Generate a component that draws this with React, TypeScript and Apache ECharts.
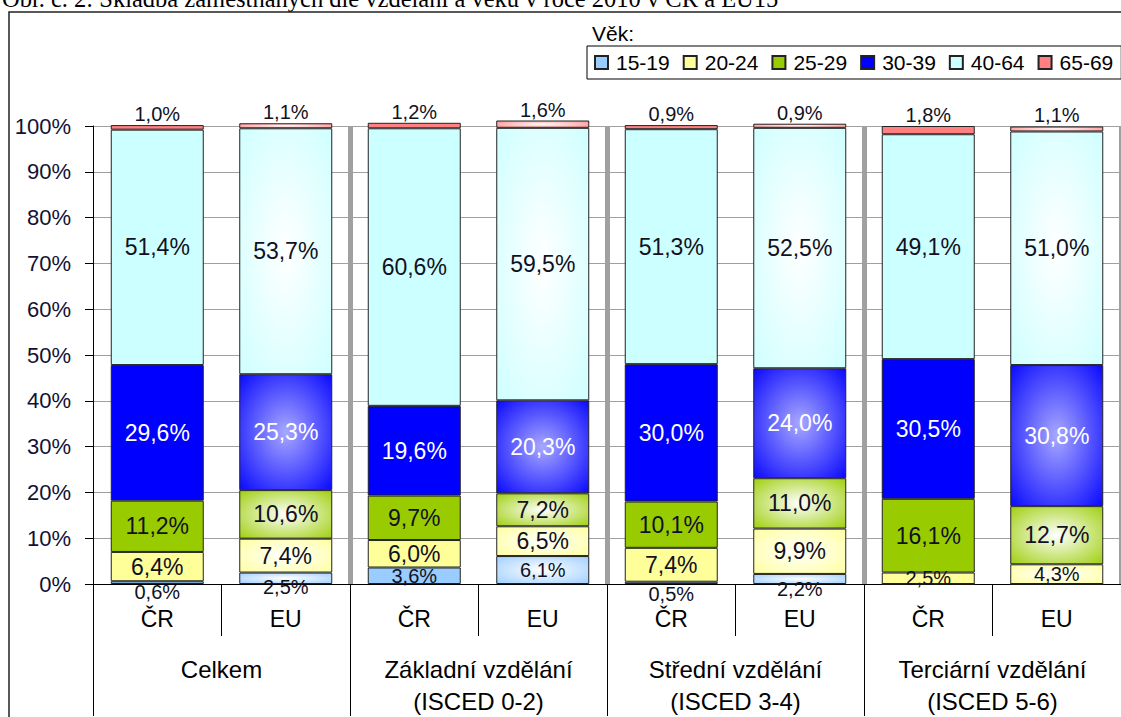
import React, { useEffect, useRef } from 'react';
import * as echarts from 'echarts';

const barLabels = ['ČR', 'EU', 'ČR', 'EU', 'ČR', 'EU', 'ČR', 'EU'];
const groupLabels = [
  'Celkem',
  'Základní vzdělání\n(ISCED 0-2)',
  'Střední vzdělání\n(ISCED 3-4)',
  'Terciární vzdělání\n(ISCED 5-6)',
];
const ageNames = ['15-19', '20-24', '25-29', '30-39', '40-64', '65-69'];
const age15_19 = [0.6, 2.5, 3.6, 6.1, 0.5, 2.2, 0, 0];
const age20_24 = [6.4, 7.4, 6.0, 6.5, 7.4, 9.9, 2.5, 4.3];
const age25_29 = [11.2, 10.6, 9.7, 7.2, 10.1, 11.0, 16.1, 12.7];
const age30_39 = [29.6, 25.3, 19.6, 20.3, 30.0, 24.0, 30.5, 30.8];
const age40_64 = [51.4, 53.7, 60.6, 59.5, 51.3, 52.5, 49.1, 51.0];
const age65_69 = [1.0, 1.1, 1.2, 1.6, 0.9, 0.9, 1.8, 1.1];
const titleText = 'Obr. č. 2: Skladba zaměstnaných dle vzdělání a věku v roce 2010 v ČR a EU15';
const legendTitle = 'Věk:';

// styling
const colors = ['#99CCFF', '#FFFF99', '#99CC00', '#0000FF', '#CCFFFF', '#FF8080'];
const centerColors = ['#ffffff', '#ffffff', '#ffffff', '#a8a8ff', '#ffffff', '#ffffff'];
const youngLabelShift = [9, 9, 0, 0, 11, 10, 0, 0];
const FONT = '"Liberation Sans", Arial, sans-serif';

const fmt = (v: number) => v.toFixed(1).replace('.', ',') + '%';

export default function App() {
  const ref = useRef<HTMLDivElement>(null);
  useEffect(() => {
    if (!ref.current) return;
    const chart = echarts.init(ref.current, undefined, { renderer: 'svg' });
    const all = [age15_19, age20_24, age25_29, age30_39, age40_64, age65_69];
    const series = all.map((vals, s) => ({
      name: ageNames[s],
      type: 'bar',
      stack: 'total',
      barWidth: 93,
      clip: false,
      xAxisIndex: 0,
      itemStyle: { color: colors[s], borderColor: '#222', borderWidth: 1 },
      label: {
        show: true,
        position: s === 5 ? 'top' : 'inside',
        distance: 1,
        fontFamily: FONT,
        color: s === 3 ? '#ffffff' : '#111122',
        formatter: (p: any) => (p.value ? fmt(p.value) : ''),
      },
      data: vals.map((v, i) => {
        const small = s === 0 || s === 5 || v < 5;
        const item: any = {
          value: v,
          label: {
            fontSize: small ? 20 : 23,
            offset: [0, s === 0 ? youngLabelShift[i] : 0],
          },
        };
        if (i % 2 === 1) {
          item.itemStyle = {
            color: {
              type: 'radial',
              x: 0.5,
              y: 0.5,
              r: 0.75,
              colorStops: [
                { offset: 0, color: centerColors[s] },
                { offset: 1, color: colors[s] },
              ],
            },
          };
        }
        return item;
      }),
    }));

    chart.setOption({
      animation: false,
      backgroundColor: '#ffffff',
      textStyle: { fontFamily: FONT },
      grid: { left: 93, top: 126, width: 1036, height: 459, containLabel: false },
      legend: {
        data: ageNames,
        left: 587,
        top: 46,
        width: 680,
        orient: 'horizontal',
        icon: 'rect',
        itemWidth: 13,
        itemHeight: 13,
        itemGap: 13,
        padding: [6, 8, 6, 7],
        borderColor: '#000',
        borderWidth: 1,
        selectedMode: false,
        textStyle: { fontSize: 21, color: '#000', fontFamily: FONT, padding: [0, 0, 0, 3] },
      },
      xAxis: [
        {
          type: 'category',
          data: barLabels,
          position: 'bottom',
          axisLine: { show: true, lineStyle: { color: '#000', width: 1 } },
          axisTick: { show: true, interval: 0, length: 52, lineStyle: { color: '#000', width: 1 } },
          axisLabel: { fontSize: 23, margin: 23, color: '#000', fontFamily: FONT, interval: 0 },
          splitLine: { show: false },
        },
        {
          type: 'category',
          data: groupLabels,
          position: 'bottom',
          offset: 0,
          axisLine: { show: false },
          axisTick: { show: true, interval: 0, length: 132, lineStyle: { color: '#000', width: 1 } },
          axisLabel: {
            fontSize: 24,
            lineHeight: 32,
            margin: 69,
            color: '#000',
            fontFamily: FONT,
            interval: 0,
          },
          splitLine: {
            show: true,
            interval: (i: number) => i > 0,
            lineStyle: { color: '#a0a0a0', width: 5 },
          },
        },
      ],
      yAxis: {
        type: 'value',
        min: 0,
        max: 100,
        interval: 10,
        axisLine: { show: true, lineStyle: { color: '#000', width: 1 } },
        axisTick: { show: true, length: 8, lineStyle: { color: '#000' } },
        axisLabel: { formatter: '{value}%', fontSize: 22, margin: 22, color: '#111133', fontFamily: FONT },
        splitLine: { show: true, lineStyle: { color: '#a0a0a0', width: 1 } },
      },
      graphic: [
        {
          type: 'rect',
          shape: { x: 9, y: 12, width: 1300, height: 900 },
          style: { fill: 'none', stroke: '#222', lineWidth: 1.5 },
          z: 100,
          silent: true,
        },
        {
          type: 'text',
          x: 2,
          y: -14,
          style: { text: titleText, fontSize: 24.5, fontFamily: '"Liberation Serif", "Times New Roman", serif', fill: '#000' },
          silent: true,
        },
        {
          type: 'text',
          x: 592,
          y: 23,
          style: { text: legendTitle, fontSize: 21, fontFamily: FONT, fill: '#000' },
          silent: true,
        },
      ],
      series,
    });
    return () => chart.dispose();
  }, []);
  return (
    <div
      ref={ref}
      style={{ position: 'fixed', left: 0, top: 0, width: 1121, height: 717, background: '#fff' }}
    />
  );
}
